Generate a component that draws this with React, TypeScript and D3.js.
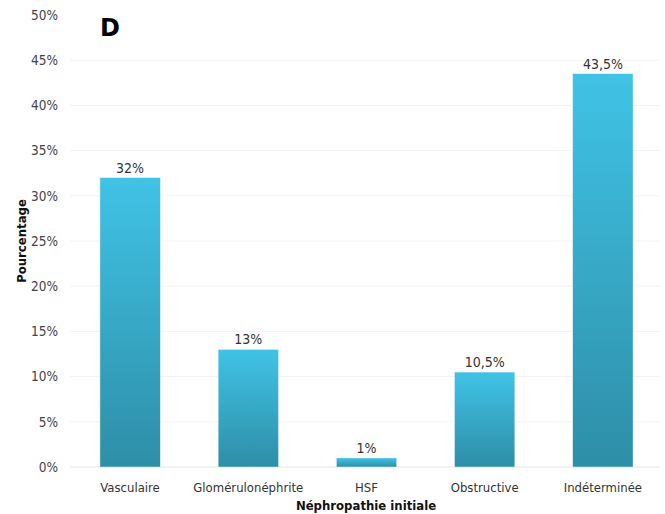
import React from "react";
import * as d3 from "d3";

const categories = ["Vasculaire", "Glomérulonéphrite", "HSF", "Obstructive", "Indéterminée"];
const values = [32, 13, 1, 10.5, 43.5];
const valueLabels = ["32%", "13%", "1%", "10,5%", "43,5%"];
const yTicks = [0, 5, 10, 15, 20, 25, 30, 35, 40, 45, 50];

const W = 665;
const H = 514;
const FONT = "'DejaVu Sans Condensed', 'Liberation Sans Narrow', sans-serif";

export default function App() {
  const x = d3.scaleBand<string>().domain(categories).range([71, 662]).paddingInner(0.49).paddingOuter(0.245);
  const y = d3.scaleLinear().domain([0, 50]).range([467, 15]);

  return (
    <svg width={W} height={H} style={{ position: "absolute", left: 0, top: 0, background: "#fff" }}>
      <defs>
        <linearGradient id="barGrad" x1="0" y1="0" x2="0" y2="1">
          <stop offset="0%" stopColor="#40c3e6" />
          <stop offset="100%" stopColor="#2e8ea7" />
        </linearGradient>
      </defs>
      {yTicks.map((t) => (
        <g key={t}>
          {t > 0 && t < 50 && (
            <line x1={70} x2={660} y1={y(t)} y2={y(t)} stroke="#f2f2f2" strokeWidth={1} />
          )}
          <text x={58} y={y(t)} dy="0.35em" textAnchor="end" fontSize={13.5} fill="#444" fontFamily={FONT}>
            {t}%
          </text>
        </g>
      ))}
      <line x1={70} x2={660} y1={y(0)} y2={y(0)} stroke="#e6e6e6" strokeWidth={1} />
      {categories.map((c, i) => {
        const v = values[i];
        const bx = x(c)!;
        const bw = x.bandwidth();
        return (
          <g key={c}>
            <rect x={bx} y={y(v)} width={bw} height={y(0) - y(v)} fill="url(#barGrad)" stroke="#d8eef5" strokeWidth={0.5} />
            <text x={bx + bw / 2} y={y(v) - 5} textAnchor="middle" fontSize={14} fill="#333" fontFamily={FONT}>
              {valueLabels[i]}
            </text>
            <text x={bx + bw / 2} y={492} textAnchor="middle" fontSize={13} fill="#333" fontFamily={FONT}>
              {c}
            </text>
          </g>
        );
      })}
      <text x={366} y={510} textAnchor="middle" fontSize={13} fontWeight="bold" fill="#111" fontFamily={FONT}>
        Néphropathie initiale
      </text>
      <text transform={`translate(26, 241) rotate(-90)`} textAnchor="middle" fontSize={13} fontWeight="bold" fill="#111" fontFamily={FONT}>
        Pourcentage
      </text>
      <text x={100} y={36} fontSize={24} fontWeight={900} fill="#000" fontFamily="'DejaVu Sans', sans-serif">
        D
      </text>
    </svg>
  );
}
